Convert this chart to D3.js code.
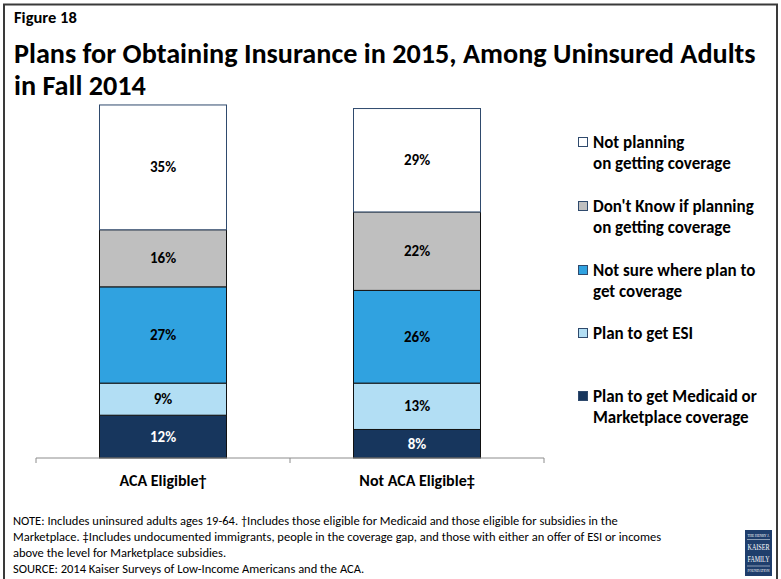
<!DOCTYPE html>
<html>
<head>
<meta charset="utf-8">
<script src="https://cdn.jsdelivr.net/npm/d3@7"></script>
<style>
  html, body { margin: 0; padding: 0; background: #fff; }
  svg { display: block; }
  text { font-family: Carlito, Calibri, Lato, "Liberation Sans", Arial, sans-serif; }
</style>
</head>
<body>
<svg id="chart" width="781" height="579"></svg>
<script>
// Survey groups shown as columns
const categories = ["ACA Eligible†", "Not ACA Eligible‡"];

// Series, stacked from the bottom up (percent of group)
const seriesKeys = ["medicaid", "esi", "notSure", "dontKnow", "notPlanning"];
const medicaid    = [12, 8];
const esi         = [9, 13];
const notSure     = [27, 26];
const dontKnow    = [16, 22];
const notPlanning = [35, 29];

const legendLabels = [
  ["Not planning", "on getting coverage"],
  ["Don't Know if planning", "on getting coverage"],
  ["Not sure where plan to", "get coverage"],
  ["Plan to get ESI"],
  ["Plan to get Medicaid or", "Marketplace coverage"]
];
const legendOrder = ["notPlanning", "dontKnow", "notSure", "esi", "medicaid"];

const titleLines = [
  "Plans for Obtaining Insurance in 2015, Among Uninsured Adults",
  "in Fall 2014"
];
const noteLines = [
  "NOTE: Includes uninsured adults ages 19-64. †Includes those eligible for Medicaid and those eligible for subsidies in the",
  "Marketplace. ‡Includes undocumented immigrants, people in the coverage gap, and those with either an offer of ESI or incomes",
  "above the level for Marketplace subsidies.",
  "SOURCE: 2014 Kaiser Surveys of Low-Income Americans and the ACA."
];

const colors = {
  medicaid: "#17365d",
  esi: "#b2def4",
  notSure: "#30a2e0",
  dontKnow: "#bfbfbf",
  notPlanning: "#ffffff"
};

const rows = categories.map((c, i) => ({
  category: c,
  medicaid: medicaid[i],
  esi: esi[i],
  notSure: notSure[i],
  dontKnow: dontKnow[i],
  notPlanning: notPlanning[i]
}));

const svg = d3.select("#chart");

// Outer frame
svg.append("rect")
  .attr("x", 4).attr("y", 4.5)
  .attr("width", 773).attr("height", 590)
  .attr("fill", "none")
  .attr("stroke", "#3a3a3a")
  .attr("stroke-width", 2);

// Heading
svg.append("text")
  .attr("x", 14).attr("y", 23)
  .attr("font-size", 16.5).attr("font-weight", "bold")
  .text("Figure 18");

svg.selectAll("text.title").data(titleLines).join("text")
  .attr("class", "title")
  .attr("x", 14).attr("y", (d, i) => 63 + i * 32)
  .attr("font-size", 28.2).attr("font-weight", "bold")
  .attr("fill", "#000")
  .text(d => d);

// Scales
const x = d3.scaleBand()
  .domain(categories)
  .range([36, 544])
  .paddingInner(0.5)
  .paddingOuter(0.25);

const y = d3.scaleLinear()
  .domain([0, 100])
  .range([458, 101.4]);

const stacked = d3.stack().keys(seriesKeys)(rows);

// Bars
const layers = svg.append("g").selectAll("g")
  .data(stacked).join("g")
  .attr("fill", d => colors[d.key]);

layers.selectAll("rect")
  .data(d => d.map(s => Object.assign(s, { key: d.key })))
  .join("rect")
  .attr("x", d => x(d.data.category))
  .attr("width", x.bandwidth())
  .attr("y", d => y(d[1]))
  .attr("height", d => y(d[0]) - y(d[1]))
  .attr("stroke", d => d.key === "notPlanning" ? "#2f4a6d" : "#111")
  .attr("stroke-width", 1);

// Value labels
layers.selectAll("text")
  .data(d => d)
  .join("text")
  .attr("x", d => x(d.data.category) + x.bandwidth() / 2)
  .attr("y", d => (y(d[0]) + y(d[1])) / 2 + 5)
  .attr("text-anchor", "middle")
  .attr("font-size", 15)
  .attr("font-weight", "bold")
  .attr("fill", d => d.key === "medicaid" ? "#fff" : "#000")
  .text(d => (d[1] - d[0]) + "%");

// Category axis with boundary ticks
const axisG = svg.append("g").attr("transform", `translate(0,${y(0)})`);
axisG.append("line")
  .attr("x1", x.range()[0]).attr("x2", x.range()[1])
  .attr("stroke", "#8c8c8c").attr("stroke-width", 1);
const edges = [x.range()[0]].concat(categories.map(c => x(c) + x.bandwidth() + x.step() * x.paddingInner() / 2));
edges[edges.length - 1] = x.range()[1];
axisG.selectAll("line.tick").data(edges).join("line")
  .attr("class", "tick")
  .attr("x1", d => d).attr("x2", d => d)
  .attr("y1", 0).attr("y2", 5)
  .attr("stroke", "#8c8c8c");

const xAxis = d3.axisBottom(x).tickSize(0).tickPadding(0);
const xa = svg.append("g")
  .attr("transform", `translate(0,${y(0)})`)
  .call(xAxis);
xa.select(".domain").remove();
xa.selectAll("text")
  .attr("y", 28)
  .attr("dy", 0)
  .attr("font-size", 16)
  .attr("font-weight", "bold")
  .attr("fill", "#000")
  .style("font-family", 'Carlito, Calibri, Lato, "Liberation Sans", Arial, sans-serif');

// Legend
const legendTop = [148, 212, 276, 339, 402];
const legend = svg.append("g");
legendOrder.forEach((key, i) => {
  const g = legend.append("g").attr("transform", `translate(578,${legendTop[i]})`);
  g.append("rect")
    .attr("x", 0.5).attr("y", -10.5)
    .attr("width", 9).attr("height", 9)
    .attr("fill", colors[key])
    .attr("stroke", "#2f4a6d").attr("stroke-width", 1);
  g.selectAll("text").data(legendLabels[i]).join("text")
    .attr("x", 15)
    .attr("y", (d, j) => j * 21)
    .attr("font-size", 17)
    .attr("font-weight", "bold")
    .attr("fill", "#000")
    .text(d => d);
});

// Notes
svg.selectAll("text.note").data(noteLines).join("text")
  .attr("class", "note")
  .attr("x", 13)
  .attr("y", (d, i) => 525 + i * 16)
  .attr("font-size", 12.5)
  .attr("fill", "#000")
  .text(d => d);

// Foundation logo
const logo = svg.append("g").attr("transform", "translate(745,530)");
logo.append("rect").attr("width", 27).attr("height", 46).attr("fill", "#1f3e6c");
const serif = '"Liberation Serif", "DejaVu Serif", serif';
[
  { t: "THE HENRY J.", y: 7, s: 4.5 },
  { t: "KAISER", y: 20, s: 9 },
  { t: "FAMILY", y: 32, s: 9 },
  { t: "FOUNDATION", y: 42, s: 4 }
].forEach(d => {
  logo.append("text")
    .attr("x", 13.5).attr("y", d.y)
    .attr("text-anchor", "middle")
    .attr("font-size", d.s)
    .attr("fill", "#fff")
    .style("font-family", serif)
    .attr("textLength", 22).attr("lengthAdjust", "spacingAndGlyphs")
    .text(d.t);
});
logo.append("line").attr("x1", 2).attr("x2", 25).attr("y1", 9.5).attr("y2", 9.5).attr("stroke", "#fff").attr("stroke-width", 0.5);
logo.append("line").attr("x1", 2).attr("x2", 25).attr("y1", 36).attr("y2", 36).attr("stroke", "#fff").attr("stroke-width", 0.5);
</script>
</body>
</html>
